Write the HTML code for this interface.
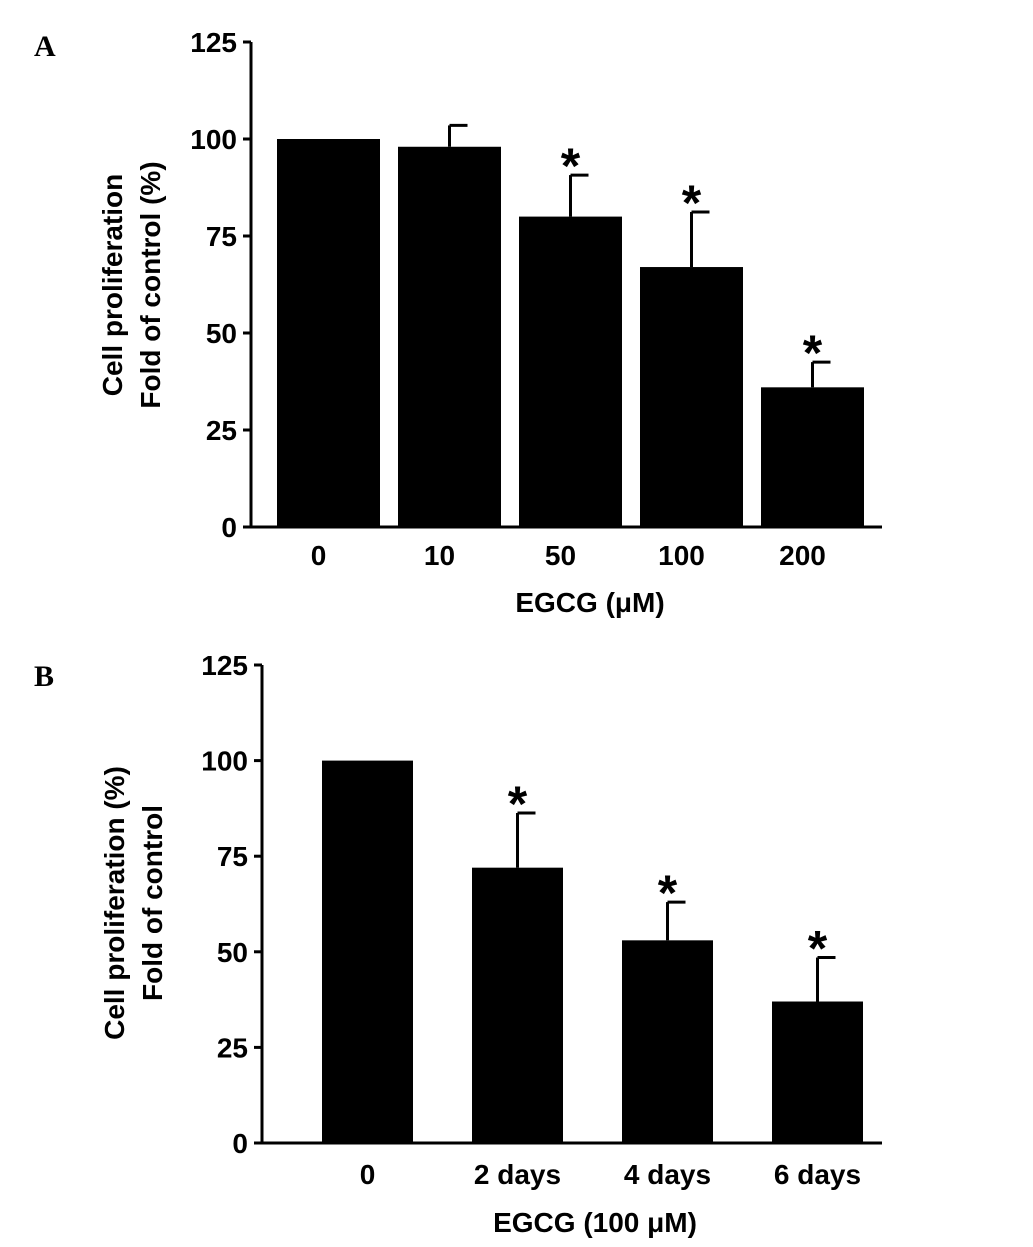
<!DOCTYPE html>
<html><head><meta charset="utf-8"><style>
body{margin:0;background:#fff;}
svg{display:block;font-family:"Liberation Sans",Arial,sans-serif;font-weight:bold;}
</style></head><body>
<svg id="c" width="1033" height="1247"></svg>
<script>
const catsA=["0","10","50","100","200"];
const valsA=[100,98,80,67,36];
const errA=[0,5.5,10.7,14.2,6.5];
const starA=[false,false,true,true,true];
const catsB=["0","2 days","4 days","6 days"];
const valsB=[100,72,53,37];
const errB=[0,14.3,10,11.5];
const starB=[false,true,true,true];
const ticks=[0,25,50,75,100,125];
const NS="http://www.w3.org/2000/svg";
const svg=document.getElementById('c');
function mk(t,a,txt,p){const e=document.createElementNS(NS,t);for(const k in a)e.setAttribute(k,a[k]);if(txt!==undefined)e.textContent=txt;(p||svg).appendChild(e);return e;}
function panel(o){
  const g=mk('g',{});
  
  
  const y=v=>o.y0-(o.y0-o.y125)*v/125;
  const lab=mk('text',{x:o.labX,y:o.labY,'font-size':30,'font-family':'Liberation Serif, serif'},o.letter,g);
  
  
  const ax=mk('path',{d:`M${o.ax},${o.y125} V${o.y0} H${o.axEnd}`,stroke:'#000','stroke-width':3,fill:'none'},undefined,g);
  
  
  ticks.forEach(t=>{
    mk('line',{x1:o.ax-8,x2:o.ax,y1:y(t),y2:y(t),stroke:'#000','stroke-width':3},undefined,g);
    const tl=mk('text',{x:o.ax-14,y:y(t)+10,'font-size':28,'text-anchor':'end'},t,g);
    
    
  });
  o.cats.forEach((c,i)=>{
    const x=o.x0+i*o.step, cx=x+o.bw/2;
    const b=mk('rect',{x:x,y:y(o.vals[i]),width:o.bw,height:o.y0-y(o.vals[i]),fill:'#000'},undefined,g);
    
    
    if(o.err[i]>0){
      const top=y(o.vals[i]+o.err[i]);
      mk('line',{x1:cx,x2:cx,y1:top,y2:y(o.vals[i]),stroke:'#000','stroke-width':3},undefined,g);
      mk('line',{x1:cx,x2:cx+18,y1:top,y2:top,stroke:'#000','stroke-width':3},undefined,g);
      if(o.star[i]){
        const s=mk('text',{x:cx,y:top+8,'font-size':50,'text-anchor':'middle'},'*',g);
        
        
      }
    }
    const xl=mk('text',{x:cx+(o.xoff[i]||0),y:o.y0+o.xlY,'font-size':28,'text-anchor':'middle'},c,g);
    
    
  });
  const xt=mk('text',{x:o.xtX,y:o.xtY,'font-size':28,'text-anchor':'middle'},o.xt,g);
  
  
  o.yt.forEach((s,k)=>{
    const yy=mk('text',{x:0,y:0,'font-size':28,'text-anchor':'middle',transform:`translate(${o.ytX+k*38},${o.ytY}) rotate(-90)`},s,g);
    
    
  });
}
panel({name:'panel-a',letter:'A',labX:34,labY:56,ax:251,axEnd:882,y0:527,y125:42,cats:catsA,vals:valsA,err:errA,star:starA,x0:277,step:121,bw:103,xlY:38,xoff:[-10,-10,-10,-10,-10],xt:'EGCG (\u03bcM)',xtX:590,xtY:612,yt:['Cell proliferation','Fold of control (%)'],ytX:122,ytY:285});
panel({name:'panel-b',letter:'B',labX:34,labY:686,ax:262,axEnd:882,y0:1143,y125:665,cats:catsB,vals:valsB,err:errB,star:starB,x0:322,step:150,bw:91,xlY:41,xoff:[0,0,0,0],xt:'EGCG (100 \u03bcM)',xtX:595,xtY:1232,yt:['Cell proliferation (%)','Fold of control'],ytX:124,ytY:903});
</script>
</body></html>
